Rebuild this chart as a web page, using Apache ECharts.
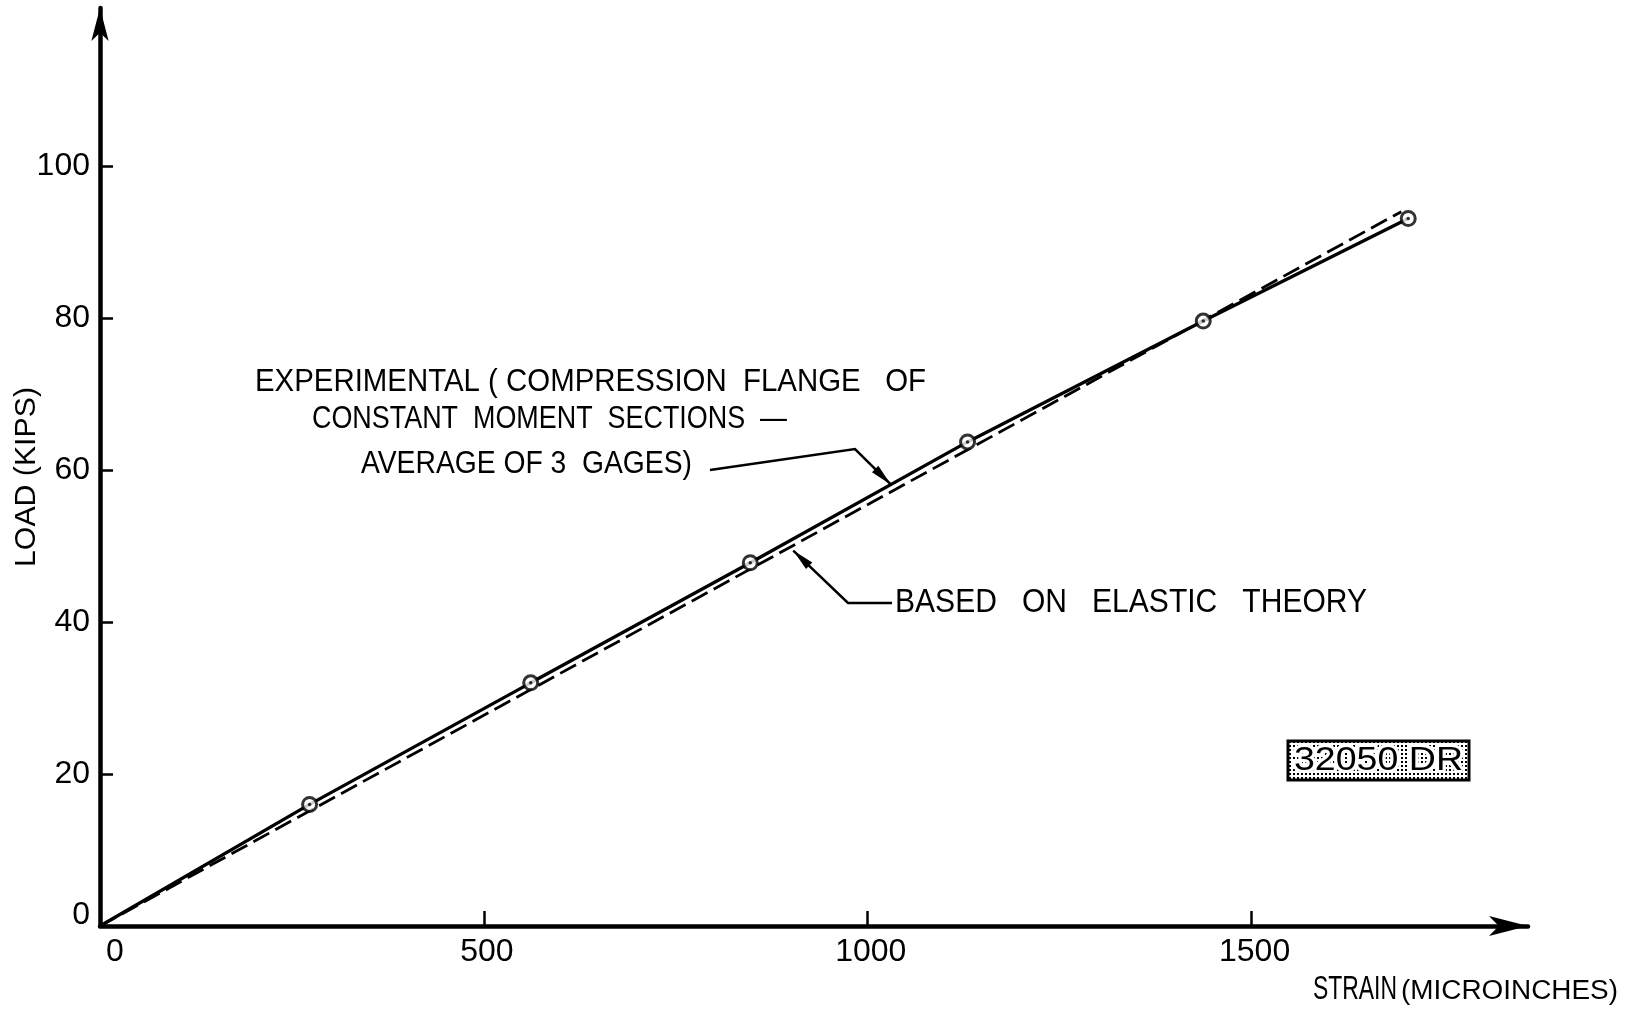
<!DOCTYPE html>
<html><head><meta charset="utf-8">
<script src="https://cdn.jsdelivr.net/npm/echarts@6/dist/echarts.min.js"></script>
<style>html,body{margin:0;padding:0;background:#fff}#c{width:1631px;height:1011px}</style>
</head><body><div id="c"></div>
<script>
// ---- data ----
const strainExp = [0, 273, 561, 847, 1130, 1437, 1704];
const loadExp   = [0, 16.0, 32.0, 47.8, 63.7, 79.6, 93.1];
const strainTheory = [0, 1695];
const loadTheory   = [0, 94.0];
const xTicks = [0, 500, 1000, 1500];
const yTicks = [0, 20, 40, 60, 80, 100];

const FONT = '"Liberation Sans", Arial, sans-serif';
const cv = document.createElement('canvas').getContext('2d');
function measure(t, s) { cv.font = s + 'px ' + FONT; return cv.measureText(t).width; }
function fitText(t, x0, x1, cy, s) {
  return { type: 'text', x: x0, y: cy, z: 20, scaleX: (x1 - x0) / measure(t, s),
    style: { text: t, fontSize: s, fontFamily: FONT, fill: '#000', align: 'left', verticalAlign: 'middle' } };
}

const expData = strainExp.map((v, i) => [v, loadExp[i]]);
const thData = strainTheory.map((v, i) => [v, loadTheory[i]]);
const markerData = expData.slice(1);

const chart = echarts.init(document.getElementById('c'), null, { renderer: 'canvas' });
const axisLabelBase = { color: '#000', fontSize: 32, fontFamily: FONT, margin: 10, formatter: v => String(v) };
chart.setOption({
  animation: false,
  backgroundColor: '#fff',
  grid: { left: 100, right: 103, top: 8, bottom: 85, containLabel: false, outerBoundsMode: 'none' },
  xAxis: {
    type: 'value', min: 0, max: 1860, interval: 500,
    splitLine: { show: false },
    axisLine: { symbol: ['none', 'arrow'], symbolSize: [15, 39], lineStyle: { color: '#000', width: 4.5 } },
    axisTick: { inside: true, length: 15, customValues: xTicks, lineStyle: { color: '#000', width: 2.5 } },
    axisLabel: Object.assign({}, axisLabelBase, { customValues: xTicks, alignMinLabel: 'left', padding: [0, 0, 0, 6] })
  },
  yAxis: {
    type: 'value', min: 0, max: 120.8, interval: 20,
    splitLine: { show: false },
    axisLine: { symbol: ['none', 'arrow'], symbolSize: [13, 33], lineStyle: { color: '#000', width: 4.5 } },
    axisTick: { inside: true, length: 13, customValues: yTicks, lineStyle: { color: '#000', width: 2.5 } },
    axisLabel: Object.assign({}, axisLabelBase, { customValues: yTicks, verticalAlignMinLabel: 'bottom', lineHeight: 22 })
  },
  series: [
    { type: 'line', data: thData, showSymbol: false, z: 2,
      lineStyle: { color: '#000', width: 2.8, type: [18, 7] } },
    { type: 'line', data: expData, showSymbol: false, z: 3,
      lineStyle: { color: '#000', width: 3.3 } },
    { type: 'scatter', data: markerData, symbol: 'circle', symbolSize: 14, z: 4,
      itemStyle: { color: '#fff', borderColor: '#000', borderWidth: 3 } },
    { type: 'scatter', data: markerData, symbol: 'circle', symbolSize: 3.5, z: 5,
      itemStyle: { color: '#000' } }
  ]
});

// annotation leaders: tips anchored to data coordinates
function arrowHead(p0, p1, L, W) {
  const dx = p1[0] - p0[0], dy = p1[1] - p0[1], d = Math.hypot(dx, dy);
  const ux = dx / d, uy = dy / d, nx = -uy, ny = ux;
  const bx = p1[0] - ux * L, by = p1[1] - uy * L;
  return { type: 'polygon', z: 20, shape: { points: [p1, [bx + nx * W / 2, by + ny * W / 2], [bx - nx * W / 2, by - ny * W / 2]] },
    style: { fill: '#000' } };
}
const tipExp = chart.convertToPixel({ gridIndex: 0 }, [1030, 58.1]);
const tipTh = chart.convertToPixel({ gridIndex: 0 }, [903, 49.4]);
const leadExp = [[710, 470], [855, 449], tipExp];
const leadTh = [[892, 603], [848, 603], tipTh];

// stipple pattern for the drawing-number box
const pc = document.createElement('canvas'); pc.width = 4; pc.height = 4;
const px = pc.getContext('2d'); px.fillStyle = '#fff'; px.fillRect(0, 0, 4, 4);
px.fillStyle = '#000'; px.fillRect(1, 1, 2, 2);

const g = [
  fitText('EXPERIMENTAL ( COMPRESSION  FLANGE   OF', 255, 926, 382, 32),
  fitText('CONSTANT  MOMENT  SECTIONS  —', 312, 787, 419, 32),
  fitText('AVERAGE OF 3  GAGES)', 361, 692, 464, 32),
  fitText('BASED   ON   ELASTIC   THEORY', 895, 1367, 603, 33),
  fitText('STRAIN', 1313, 1397, 990, 33),
  fitText('(MICROINCHES)', 1401, 1618, 992, 27),
  { type: 'polyline', z: 20, shape: { points: leadExp }, style: { stroke: '#000', lineWidth: 2.5, fill: null } },
  arrowHead(leadExp[1], leadExp[2], 22, 9),
  { type: 'polyline', z: 20, shape: { points: leadTh }, style: { stroke: '#000', lineWidth: 2.5, fill: null } },
  arrowHead(leadTh[1], leadTh[2], 22, 9),
  { type: 'rect', z: 19, shape: { x: 1288, y: 741, width: 181, height: 39 },
    style: { fill: { image: pc, repeat: 'repeat' }, stroke: '#000', lineWidth: 3 } }
];
const halo = fitText('32050 DR', 1294, 1463, 761, 34);
halo.z = 20; halo.style.fill = '#fff'; halo.style.stroke = '#fff'; halo.style.lineWidth = 6;
g.push(halo);
const boxTxt = fitText('32050 DR', 1294, 1463, 761, 34);
boxTxt.z = 21;
g.push(boxTxt);
const yl = 'LOAD (KIPS)';
g.push({ type: 'text', z: 20, x: 27, y: 477, rotation: Math.PI / 2, scaleX: 180 / measure(yl, 30),
  style: { text: yl, fontSize: 30, fontFamily: FONT, fill: '#000', align: 'center', verticalAlign: 'middle' } });
chart.setOption({ graphic: g });
</script></body></html>
